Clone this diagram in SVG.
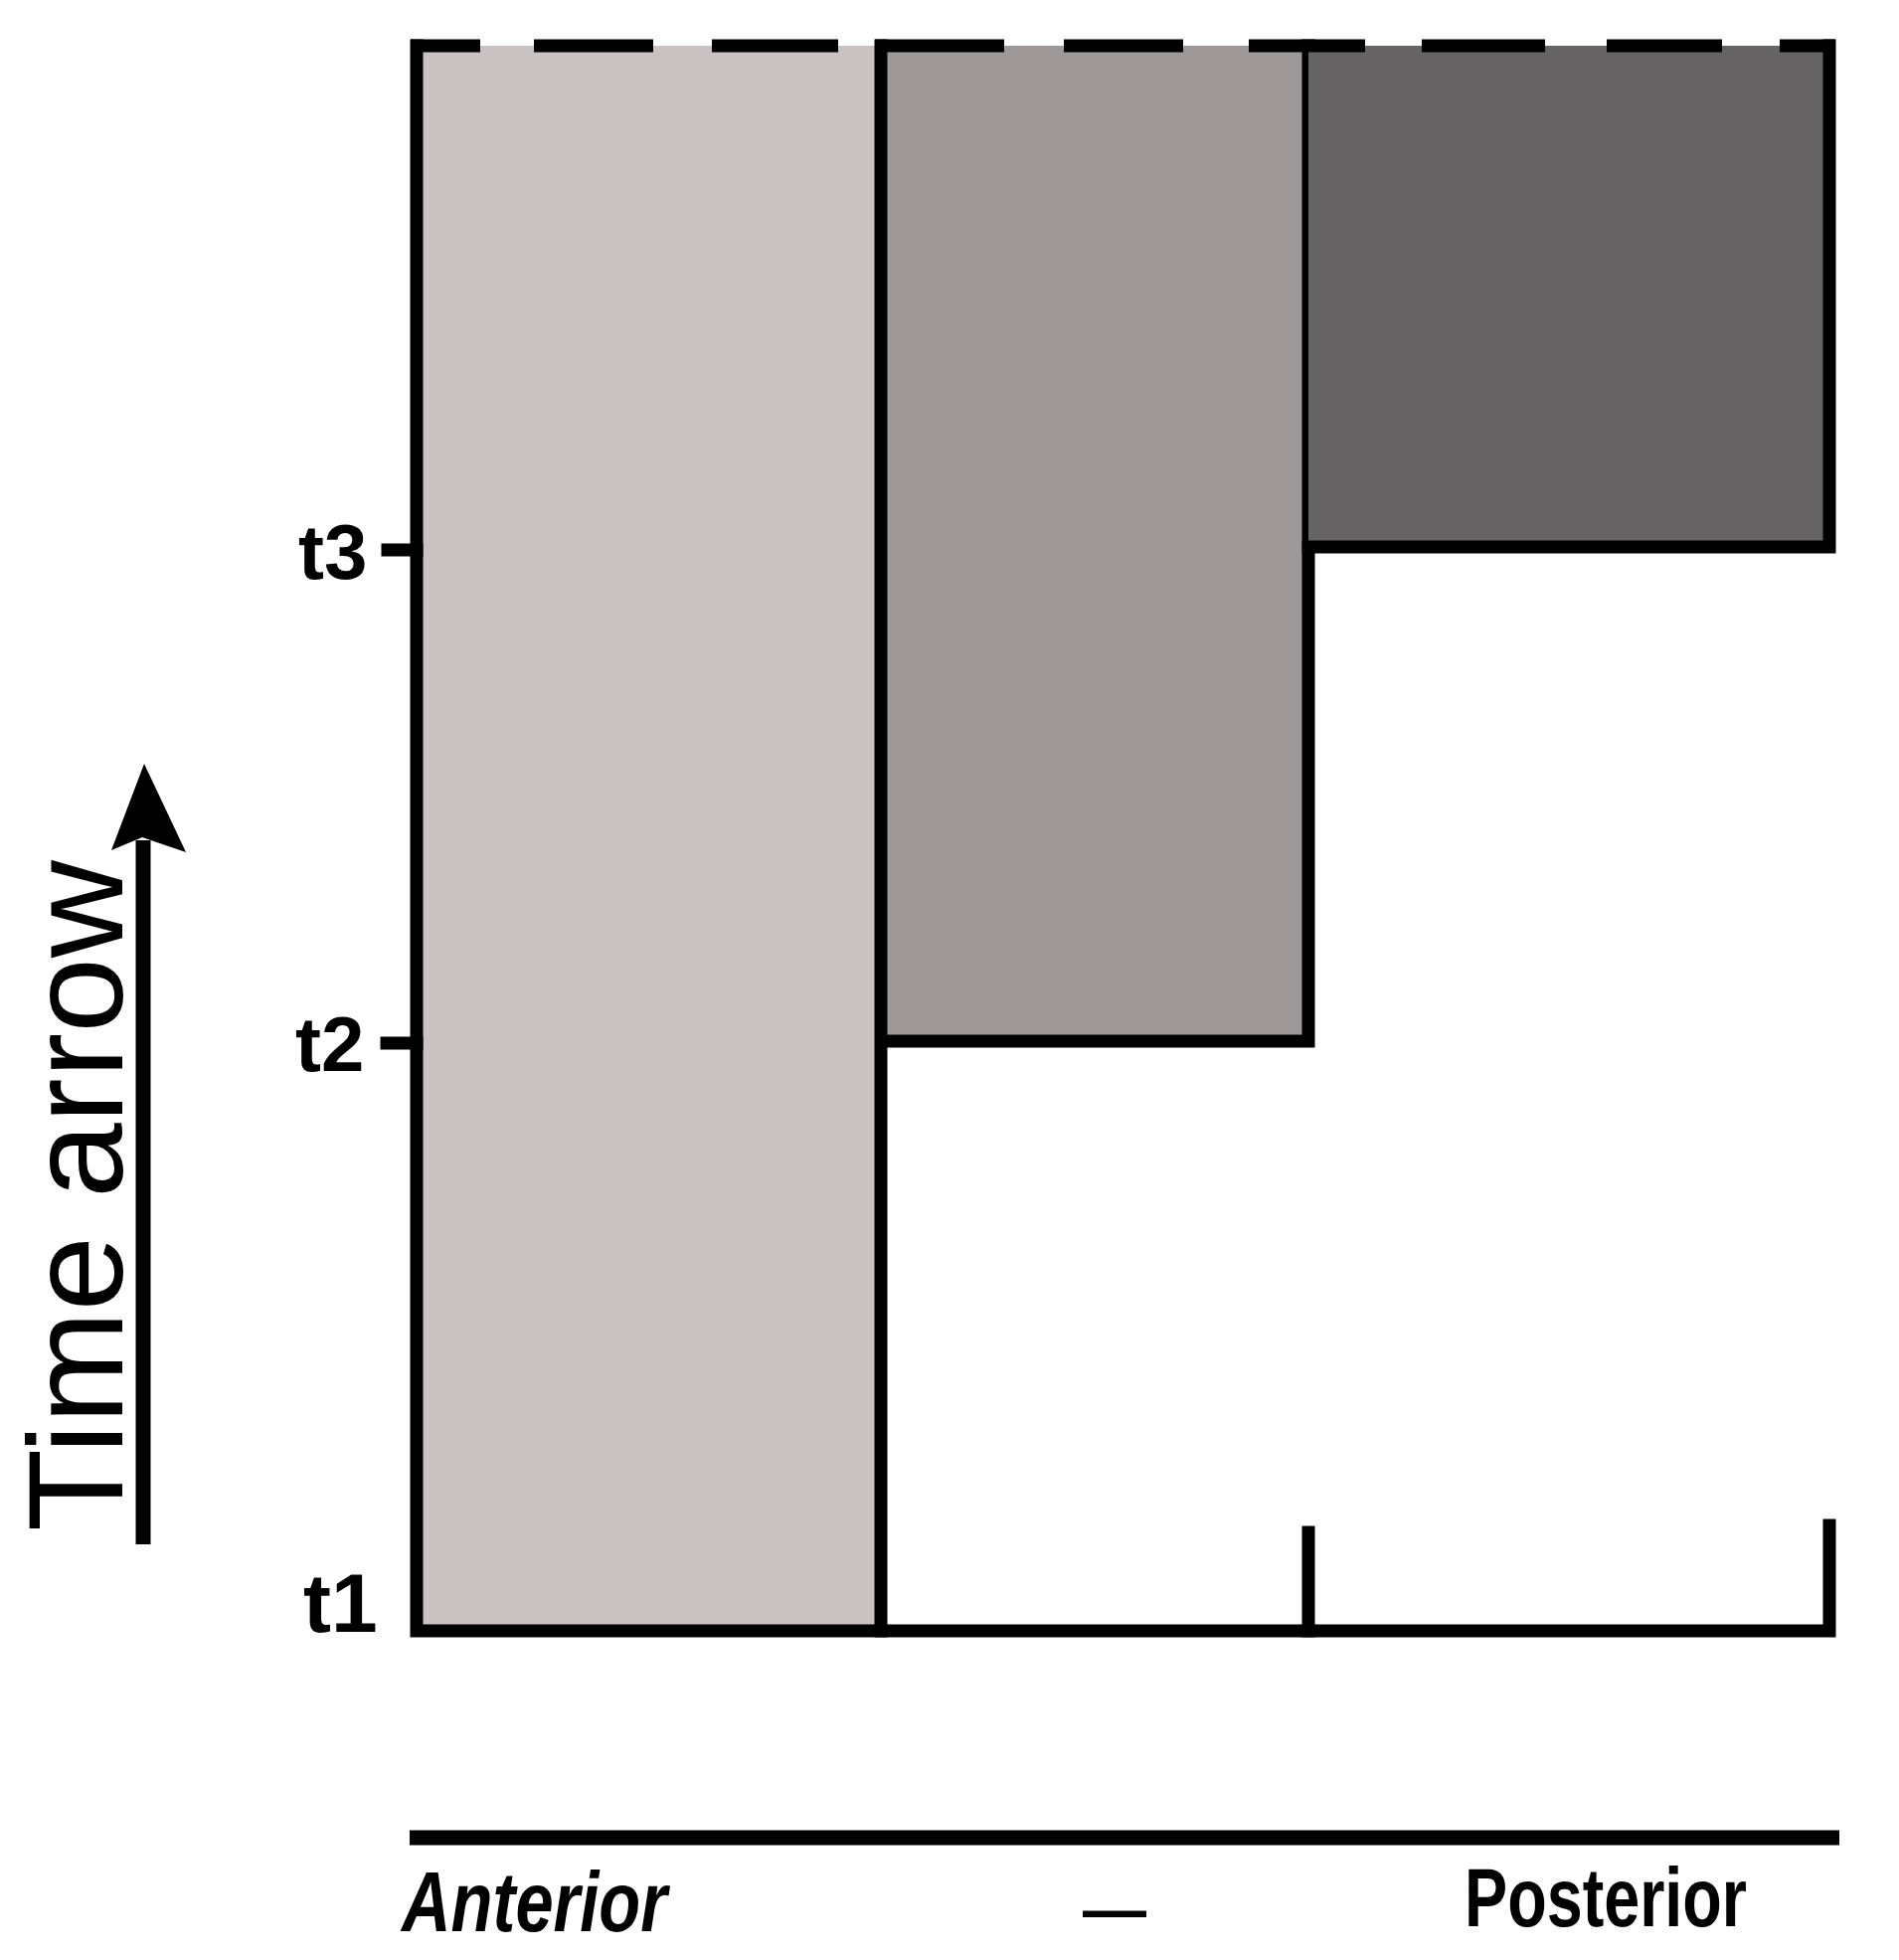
<svg xmlns="http://www.w3.org/2000/svg" width="1910" height="1971" viewBox="0 0 1910 1971">
<style>
.ln{stroke:#000;stroke-width:13;fill:none;stroke-linecap:square}
.lbl{font-family:"Liberation Sans",Arial,sans-serif;fill:#000}
.hand{font-family:"Liberation Sans",Arial,sans-serif;font-weight:bold;fill:#000}
</style>
<rect width="1910" height="1971" fill="#fff"/>
<g id="anterior-block">
<rect x="419" y="46" width="467" height="1594" fill="#c9c1c2"/>
<path class="ln" d="M419 46 V1640 H886"/>
</g>
<g id="middle-block">
<rect x="886" y="46" width="430" height="1001" fill="#9e9898"/>
<path class="ln" d="M886 46 V1640 H1316 M886 1047 H1316 V46"/>
</g>
<g id="posterior-block">
<rect x="1316" y="46" width="524" height="504" fill="#666364"/>
<path class="ln" d="M1316 550 H1840 V46"/>
</g>
<g id="top-dashed">
<path d="M413 46 H483 M537 46 H657 M716 46 H843 M880 46 H1010 M1070 46 H1190 M1256 46 H1373 M1430 46 H1554 M1616 46 H1732 M1790 46 H1846" stroke="#000" stroke-width="13" fill="none"/>
</g>
<g id="time-axis">
<path class="ln" d="M390 553 H419 M389 1049 H419"/>
<text class="lbl" x="300" y="582" font-size="78" font-weight="bold">t3</text>
<text class="lbl" x="297" y="1077" font-size="78" font-weight="bold">t2</text>
<text class="hand" x="305" y="1641" font-size="84">t1</text>
</g>
<g id="bottom-ticks">
<path class="ln" d="M1316 1541 V1640 H1840 V1534"/>
</g>
<g id="time-arrow">
<line x1="144" y1="1553" x2="144" y2="845" stroke="#000" stroke-width="15"/>
<path d="M145 768 L187 857 L143 842 L112 855 Z" fill="#000"/>
<text class="lbl" transform="translate(123,1540) rotate(-90)" font-size="136">Time arrow</text>
</g>
<g id="ap-axis">
<line x1="412" y1="1848" x2="1850" y2="1848" stroke="#000" stroke-width="15"/>
<text class="hand" x="404" y="1942" font-size="86" textLength="267" lengthAdjust="spacingAndGlyphs" font-style="italic">Anterior</text>
<text class="hand" x="1089" y="1942" font-size="64">—</text>
<text class="hand" x="1473" y="1937" font-size="84" textLength="284" lengthAdjust="spacingAndGlyphs">Posterior</text>
</g>
</svg>
